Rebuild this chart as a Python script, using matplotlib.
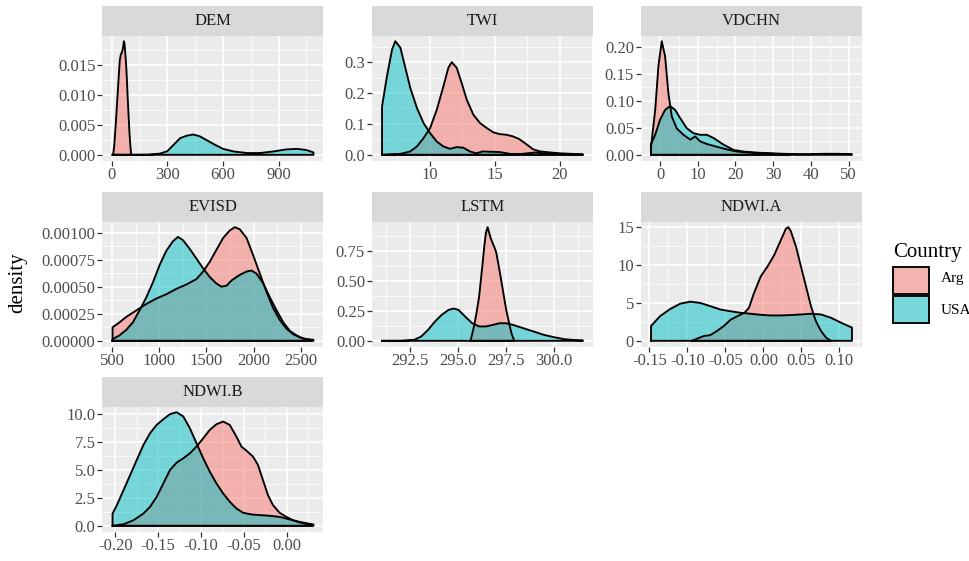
import matplotlib
matplotlib.use("Agg")
import matplotlib.pyplot as plt
from matplotlib.patches import Rectangle

plt.rcParams['font.family'] = ['Liberation Serif', 'DejaVu Serif']

# ---------------- data ----------------
COUNTRIES = ["Arg", "USA"]
COLORS = ["#F8766D", "#00BFC4"]
PANELS = ["DEM", "TWI", "VDCHN", "EVISD", "LSTM", "NDWI.A", "NDWI.B"]

DEM_ARG_X = [8, 14, 22, 30, 37, 44, 50, 56, 62, 66, 70, 74, 78, 82, 86, 91, 96, 101, 106]
DEM_ARG_Y = [0.0, 0.0015, 0.0050, 0.0090, 0.0125, 0.0158, 0.0168, 0.0172, 0.0180, 0.0190,
             0.0185, 0.0168, 0.0152, 0.0128, 0.0100, 0.0068, 0.0038, 0.0015, 0.0]
DEM_USA_X = [5, 100, 200, 260, 300, 335, 370, 405, 440, 475, 510, 550, 600, 660, 730,
             800, 870, 940, 1000, 1050, 1088]
DEM_USA_Y = [0.0, 0.0, 0.00003, 0.0002, 0.0006, 0.0017, 0.0028, 0.0032, 0.0034, 0.0031,
             0.0025, 0.0018, 0.0010, 0.00055, 0.0003, 0.0003, 0.00055, 0.0009, 0.0010,
             0.0008, 0.0004]

TWI_ARG_X = [6.4, 7.76, 8.52, 9.03, 9.54, 10.05, 10.56, 11.07, 11.45, 11.71, 12.09, 12.47,
             12.86, 13.37, 13.88, 14.39, 14.9, 15.4, 15.9, 16.4, 16.9, 17.4, 17.96, 18.5,
             19.2, 20.0, 21.0, 21.8]
TWI_ARG_Y = [0.0, 0.003, 0.011, 0.027, 0.054, 0.087, 0.146, 0.222, 0.282, 0.300, 0.282,
             0.233, 0.179, 0.130, 0.103, 0.087, 0.073, 0.067, 0.065, 0.060, 0.051, 0.036,
             0.018, 0.011, 0.008, 0.005, 0.003, 0.001]
TWI_USA_X = [6.35, 6.73, 7.12, 7.37, 7.76, 8.14, 8.52, 9.03, 9.54, 10.05, 10.56, 11.07,
             11.58, 12.1, 12.6, 13.1, 13.6, 14.1, 14.6, 15.4, 16.2, 16.9, 18.2, 19.0,
             20.0, 21.0, 21.8]
TWI_USA_Y = [0.157, 0.255, 0.341, 0.368, 0.347, 0.282, 0.217, 0.152, 0.103, 0.070, 0.043,
             0.027, 0.0195, 0.025, 0.023, 0.011, 0.005, 0.011, 0.010, 0.009, 0.003, 0.002,
             0.008, 0.003, 0.003, 0.002, 0.001]

VDCHN_ARG_X = [-2.4, -1.3, -0.44, 0.44, 1.33, 2.2, 3.1, 4.4, 6.2, 8.0, 9.3, 10.6, 12.4,
               15.0, 17.7, 20.4, 23.9, 27.4, 31.0, 34.5]
VDCHN_ARG_Y = [0.015, 0.083, 0.164, 0.210, 0.182, 0.114, 0.071, 0.049, 0.037, 0.028,
               0.034, 0.025, 0.020, 0.015, 0.010, 0.006, 0.004, 0.003, 0.0013, 0.0006]
VDCHN_USA_X = [-2.4, -1.3, 0.0, 1.33, 2.65, 4.0, 5.3, 7.1, 8.85, 10.6, 12.4, 14.2, 16.8,
               19.5, 22.1, 25.7, 29.2, 32.7, 36.3, 40.0, 43.4, 46.9, 50.9]
VDCHN_USA_Y = [0.020, 0.037, 0.065, 0.083, 0.090, 0.083, 0.068, 0.049, 0.040, 0.037,
               0.037, 0.031, 0.019, 0.009, 0.006, 0.004, 0.003, 0.0019, 0.0012, 0.0012,
               0.0019, 0.0019, 0.0012]

EVISD_ARG_X = [505, 578, 649, 720, 791, 862, 968, 1074, 1181, 1287, 1394, 1465, 1535,
               1606, 1677, 1748, 1801, 1855, 1926, 1996, 2067, 2138, 2209, 2280, 2351,
               2422, 2493, 2564, 2635]
EVISD_ARG_Y = [0.000124, 0.00017, 0.00022, 0.00026, 0.00030, 0.00034, 0.00039, 0.00043,
               0.00048, 0.00052, 0.00057, 0.00064, 0.00073, 0.00084, 0.00095, 0.00102,
               0.00105, 0.00103, 0.00095, 0.00079, 0.00062, 0.00045, 0.00030, 0.00019,
               0.00011, 0.00006, 0.00003, 0.000015, 0.00001]
EVISD_USA_X = [505, 578, 649, 720, 791, 862, 933, 1004, 1074, 1145, 1199, 1252, 1323,
               1394, 1465, 1535, 1606, 1660, 1713, 1770, 1855, 1926, 1979, 2032, 2103,
               2174, 2245, 2316, 2387, 2457, 2528, 2617]
EVISD_USA_Y = [0.000015, 0.00005, 0.00010, 0.00017, 0.00028, 0.00040, 0.00054, 0.00070,
               0.00083, 0.00092, 0.00096, 0.00093, 0.00085, 0.00076, 0.00067, 0.00059,
               0.00053, 0.00050, 0.00051, 0.00056, 0.00061, 0.00064, 0.00065, 0.00062,
               0.00053, 0.00040, 0.00028, 0.00017, 0.00009, 0.00005, 0.00002, 0.000006]

LSTM_ARG_X = [295.64, 295.73, 295.82, 295.95, 296.09, 296.18, 296.27, 296.35, 296.44,
              296.53, 296.71, 296.89, 296.98, 297.15, 297.33, 297.5, 297.65, 297.78, 297.9]
LSTM_ARG_Y = [0.0, 0.06, 0.12, 0.23, 0.37, 0.51, 0.645, 0.78, 0.90, 0.95, 0.85, 0.78,
              0.74, 0.59, 0.42, 0.26, 0.15, 0.06, 0.01]
LSTM_USA_X = [291.03, 292.0, 292.7, 293.07, 293.42, 293.78, 294.13, 294.49, 294.76,
              295.02, 295.38, 295.73, 296.09, 296.44, 296.8, 297.15, 297.5, 297.86, 298.4,
              298.93, 299.46, 300.0, 300.53, 301.06, 301.5]
LSTM_USA_Y = [0.0, 0.0, 0.008, 0.036, 0.09, 0.16, 0.216, 0.258, 0.27, 0.258, 0.20, 0.147,
              0.12, 0.12, 0.133, 0.147, 0.147, 0.133, 0.105, 0.078, 0.05, 0.03, 0.014,
              0.006, 0.003]

NDWIA_ARG_X = [-0.094, -0.087, -0.078, -0.07, -0.061, -0.052, -0.043, -0.034, -0.025,
               -0.019, -0.0124, -0.0035, 0.0053, 0.0141, 0.023, 0.0296, 0.0327, 0.036,
               0.043, 0.0494, 0.056, 0.0626, 0.069, 0.0758, 0.0824, 0.0868, 0.089]
NDWIA_ARG_Y = [0.0, 0.3, 0.65, 0.74, 1.3, 1.96, 2.8, 3.26, 3.7, 4.35, 6.3, 8.5, 9.8, 11.3,
               13.3, 14.8, 15.0, 14.5, 12.4, 9.8, 7.2, 4.57, 2.6, 1.3, 0.43, 0.13, 0.0]
NDWIA_USA_X = [-0.1478, -0.1359, -0.1226, -0.1094, -0.0962, -0.083, -0.0697, -0.0565,
               -0.0432, -0.03, -0.0168, -0.0035, 0.0097, 0.023, 0.036, 0.0494, 0.0626,
               0.0758, 0.089, 0.102, 0.1165]
NDWIA_USA_Y = [1.96, 3.26, 4.2, 4.9, 5.17, 5.0, 4.57, 4.13, 3.9, 3.7, 3.57, 3.43, 3.35,
               3.35, 3.4, 3.48, 3.57, 3.48, 3.04, 2.4, 1.74]

NDWIB_ARG_X = [-0.202, -0.19, -0.1787, -0.1671, -0.1594, -0.1517, -0.1439, -0.1362,
               -0.1285, -0.1207, -0.113, -0.1053, -0.0975, -0.0898, -0.0821, -0.0743,
               -0.0666, -0.0589, -0.053, -0.0473, -0.0395, -0.0337, -0.0279, -0.0221,
               -0.0163, -0.0086, -0.0009, 0.0069, 0.0146, 0.0243, 0.03]
NDWIB_ARG_Y = [0.0, 0.15, 0.5, 1.1, 1.7, 2.6, 3.8, 5.0, 5.66, 6.05, 6.5, 7.1, 7.84, 8.6,
               9.1, 9.34, 9.04, 8.0, 7.1, 6.74, 6.2, 5.45, 4.1, 2.75, 1.86, 1.17, 0.81,
               0.5, 0.3, 0.15, 0.06]
NDWIB_USA_X = [-0.2031, -0.198, -0.1903, -0.1826, -0.1749, -0.1671, -0.1594, -0.1517,
               -0.1439, -0.1362, -0.1285, -0.1207, -0.113, -0.1053, -0.0975, -0.0898,
               -0.0821, -0.0743, -0.0666, -0.0589, -0.0511, -0.0415, -0.0318, -0.0202,
               -0.0086, 0.003, 0.0146, 0.0243, 0.0309]
NDWIB_USA_Y = [1.1, 1.86, 3.2, 4.55, 5.9, 7.25, 8.3, 9.04, 9.55, 10.0, 10.18, 9.8, 8.74,
               7.4, 6.05, 4.85, 3.8, 2.9, 2.16, 1.56, 1.17, 1.02, 0.96, 0.9, 0.8, 0.57,
               0.36, 0.21, 0.12]

# tick breaks and labels
DEM_XT, DEM_XL = [0, 300, 600, 900], ["0", "300", "600", "900"]
DEM_YT, DEM_YL = [0, 0.005, 0.010, 0.015], ["0.000", "0.005", "0.010", "0.015"]
TWI_XT, TWI_XL = [10, 15, 20], ["10", "15", "20"]
TWI_YT, TWI_YL = [0.0, 0.1, 0.2, 0.3], ["0.0", "0.1", "0.2", "0.3"]
VDCHN_XT, VDCHN_XL = [0, 10, 20, 30, 40, 50], ["0", "10", "20", "30", "40", "50"]
VDCHN_YT, VDCHN_YL = [0, 0.05, 0.10, 0.15, 0.20], ["0.00", "0.05", "0.10", "0.15", "0.20"]
EVISD_XT, EVISD_XL = [500, 1000, 1500, 2000, 2500], ["500", "1000", "1500", "2000", "2500"]
EVISD_YT = [0, 0.00025, 0.0005, 0.00075, 0.001]
EVISD_YL = ["0.00000", "0.00025", "0.00050", "0.00075", "0.00100"]
LSTM_XT, LSTM_XL = [292.5, 295.0, 297.5, 300.0], ["292.5", "295.0", "297.5", "300.0"]
LSTM_YT, LSTM_YL = [0, 0.25, 0.5, 0.75], ["0.00", "0.25", "0.50", "0.75"]
NDWIA_XT = [-0.15, -0.10, -0.05, 0.0, 0.05, 0.10]
NDWIA_XL = ["-0.15", "-0.10", "-0.05", "0.00", "0.05", "0.10"]
NDWIA_YT, NDWIA_YL = [0, 5, 10, 15], ["0", "5", "10", "15"]
NDWIB_XT = [-0.20, -0.15, -0.10, -0.05, 0.0]
NDWIB_XL = ["-0.20", "-0.15", "-0.10", "-0.05", "0.00"]
NDWIB_YT, NDWIB_YL = [0, 2.5, 5.0, 7.5, 10.0], ["0.0", "2.5", "5.0", "7.5", "10.0"]

SERIES = {
    "DEM": [(DEM_ARG_X, DEM_ARG_Y), (DEM_USA_X, DEM_USA_Y)],
    "TWI": [(TWI_ARG_X, TWI_ARG_Y), (TWI_USA_X, TWI_USA_Y)],
    "VDCHN": [(VDCHN_ARG_X, VDCHN_ARG_Y), (VDCHN_USA_X, VDCHN_USA_Y)],
    "EVISD": [(EVISD_ARG_X, EVISD_ARG_Y), (EVISD_USA_X, EVISD_USA_Y)],
    "LSTM": [(LSTM_ARG_X, LSTM_ARG_Y), (LSTM_USA_X, LSTM_USA_Y)],
    "NDWI.A": [(NDWIA_ARG_X, NDWIA_ARG_Y), (NDWIA_USA_X, NDWIA_USA_Y)],
    "NDWI.B": [(NDWIB_ARG_X, NDWIB_ARG_Y), (NDWIB_USA_X, NDWIB_USA_Y)],
}
TICKS = {
    "DEM": (DEM_XT, DEM_XL, DEM_YT, DEM_YL),
    "TWI": (TWI_XT, TWI_XL, TWI_YT, TWI_YL),
    "VDCHN": (VDCHN_XT, VDCHN_XL, VDCHN_YT, VDCHN_YL),
    "EVISD": (EVISD_XT, EVISD_XL, EVISD_YT, EVISD_YL),
    "LSTM": (LSTM_XT, LSTM_XL, LSTM_YT, LSTM_YL),
    "NDWI.A": (NDWIA_XT, NDWIA_XL, NDWIA_YT, NDWIA_YL),
    "NDWI.B": (NDWIB_XT, NDWIB_XL, NDWIB_YT, NDWIB_YL),
}

# ---------------- layout ----------------
W, H = 970, 561
fig = plt.figure(figsize=(W / 100, H / 100), dpi=100)
fig.patch.set_facecolor("white")

COL_LEFT = [102.5, 372, 641]
ROW_TOP = [35.5, 221.5, 406.5]
PANEL_W, PANEL_H, STRIP_H = 221, 125, 29.5


def px_axes(x, y, w, h):
    return fig.add_axes([x / W, 1 - (y + h) / H, w / W, h / H])


def minors(major, lo, hi):
    step = major[1] - major[0]
    cand = [major[0] - step / 2] + [m + step / 2 for m in major]
    return [c for c in cand if lo <= c <= hi]


for i, name in enumerate(PANELS):
    r, c = divmod(i, 3)
    x0, y0 = COL_LEFT[c], ROW_TOP[r]
    ax = px_axes(x0, y0, PANEL_W, PANEL_H)
    ax.set_facecolor("#EBEBEB")
    for s in ax.spines.values():
        s.set_visible(False)

    series = SERIES[name]
    for (xs, ys), col in zip(series, COLORS):
        px = [xs[0]] + list(xs) + [xs[-1]]
        py = [0] + list(ys) + [0]
        ax.fill(px, py, facecolor=matplotlib.colors.to_rgba(col, 0.5),
                edgecolor="none", zorder=2)
        ax.plot(px + [px[0]], py + [0], color="black", lw=1.35, zorder=3,
                solid_joinstyle="round")

    allx = [v for xs, _ in series for v in xs]
    ally = [v for _, ys in series for v in ys]
    xmin, xmax = min(allx), max(allx)
    ymax = max(ally)
    dx = (xmax - xmin) * 0.05
    xlo, xhi = xmin - dx, xmax + dx
    ylo, yhi = -0.05 * ymax, 1.05 * ymax
    ax.set_xlim(xlo, xhi)
    ax.set_ylim(ylo, yhi)

    xt, xl, yt, yl = TICKS[name]
    ax.set_xticks(xt)
    ax.set_xticklabels(xl)
    ax.set_yticks(yt)
    ax.set_yticklabels(yl)
    ax.set_xticks(minors(xt, xlo, xhi), minor=True)
    ax.set_yticks(minors(yt, ylo, yhi), minor=True)
    ax.tick_params(which="major", direction="out", length=3.5, width=0.9,
                   color="#333333", labelsize=12, labelcolor="#4D4D4D", pad=1.5)
    ax.tick_params(which="minor", length=0)
    ax.grid(which="major", color="white", lw=1.1, zorder=0)
    ax.grid(which="minor", color="white", lw=0.55, zorder=0)
    ax.set_axisbelow(True)

    sax = px_axes(x0, y0 - STRIP_H, PANEL_W, STRIP_H)
    sax.set_facecolor("#D9D9D9")
    sax.set_xticks([])
    sax.set_yticks([])
    for s in sax.spines.values():
        s.set_visible(False)
    sax.text(0.5, 0.5, name, ha="center", va="center", fontsize=12,
             color="#1A1A1A", transform=sax.transAxes)

# ---------------- overlay: axis title and legend ----------------
ov = fig.add_axes([0, 0, 1, 1], facecolor="none")
ov.set_xlim(0, W)
ov.set_ylim(H, 0)
ov.axis("off")

ov.text(18, 283, "density", rotation=90, ha="center", va="center", fontsize=15,
        color="black")

ov.text(893, 252, "Country", ha="left", va="center", fontsize=15, color="black")
KEY_X, KEY_W, KEY_H = 892, 38, 29
KEY_TOPS = [266, 295]
LABEL_Y = [278, 310]
for top, col, lab, ly in zip(KEY_TOPS, COLORS, COUNTRIES, LABEL_Y):
    ov.add_patch(Rectangle((KEY_X, top), KEY_W, KEY_H, facecolor="#F2F2F2",
                           edgecolor="none"))
    ov.add_patch(Rectangle((KEY_X + 1, top + 1), KEY_W - 2, KEY_H - 2,
                           facecolor=matplotlib.colors.to_rgba(col, 0.5),
                           edgecolor="black", lw=1.35))
    ov.text(941, ly, lab, ha="left", va="center", fontsize=11, color="black")

fig.savefig("out.png", dpi=100, facecolor="white")
